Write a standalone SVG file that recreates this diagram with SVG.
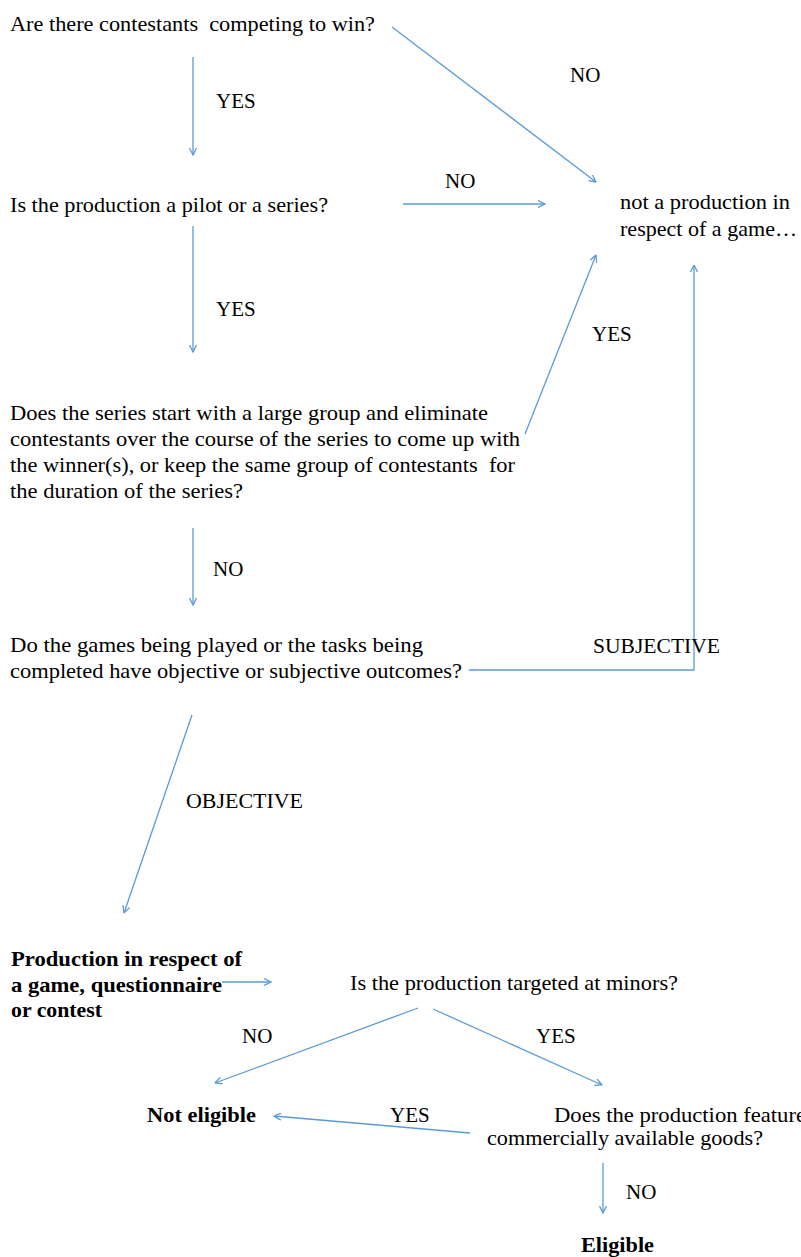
<svg xmlns="http://www.w3.org/2000/svg" width="801" height="1257" viewBox="0 0 801 1257">
<style>
text{font-family:"Liberation Serif","Times New Roman",serif;font-size:21px;fill:#000;white-space:pre}
.b{font-weight:bold}
.c{fill:none;stroke:#5b9bd5;stroke-width:1.3}
</style>
<defs>
<marker id="ah" viewBox="0 0 8 8" refX="7.5" refY="4" markerWidth="8" markerHeight="8" markerUnits="userSpaceOnUse" orient="auto">
<path d="M0.5,0.5 L7.5,4 L0.5,7.5" fill="none" stroke="#5b9bd5" stroke-width="1.3"/>
</marker>
</defs>
<rect width="801" height="1257" fill="#fff"/>
<g id="connectors">
<line class="c" x1="193" y1="57" x2="193" y2="155" marker-end="url(#ah)"/>
<line class="c" x1="392" y1="27" x2="596" y2="182" marker-end="url(#ah)"/>
<line class="c" x1="403" y1="204" x2="545" y2="204" marker-end="url(#ah)"/>
<line class="c" x1="193" y1="226" x2="193" y2="352" marker-end="url(#ah)"/>
<line class="c" x1="525" y1="434" x2="596" y2="255" marker-end="url(#ah)"/>
<line class="c" x1="193" y1="528" x2="193" y2="605" marker-end="url(#ah)"/>
<polyline class="c" points="469,670 694,670 694,265" marker-end="url(#ah)"/>
<line class="c" x1="192" y1="715" x2="124" y2="913" marker-end="url(#ah)"/>
<line class="c" x1="222" y1="982" x2="271" y2="982" marker-end="url(#ah)"/>
<line class="c" x1="418" y1="1008" x2="215" y2="1083" marker-end="url(#ah)"/>
<line class="c" x1="433" y1="1009" x2="602" y2="1085" marker-end="url(#ah)"/>
<line class="c" x1="470" y1="1133" x2="274" y2="1116" marker-end="url(#ah)"/>
<line class="c" x1="603" y1="1163" x2="603" y2="1213" marker-end="url(#ah)"/>
</g>
<g id="labels">
<text x="216" y="108">YES</text>
<text x="570" y="82">NO</text>
<text x="445" y="188">NO</text>
<text x="216" y="316">YES</text>
<text x="592" y="341">YES</text>
<text x="213" y="576">NO</text>
<text x="593" y="653" textLength="127" lengthAdjust="spacingAndGlyphs">SUBJECTIVE</text>
<text x="186" y="808" textLength="117" lengthAdjust="spacingAndGlyphs">OBJECTIVE</text>
<text x="242" y="1043">NO</text>
<text x="536" y="1043">YES</text>
<text x="390" y="1122">YES</text>
<text x="626" y="1199">NO</text>
</g>
<g id="q1"><text x="10" y="31" textLength="365" lengthAdjust="spacingAndGlyphs">Are there contestants  competing to win?</text></g>
<g id="q2"><text x="10" y="212" textLength="318" lengthAdjust="spacingAndGlyphs">Is the production a pilot or a series?</text></g>
<g id="not-game">
<text x="620" y="209" textLength="170" lengthAdjust="spacingAndGlyphs">not a production in</text>
<text x="620" y="236" textLength="177" lengthAdjust="spacingAndGlyphs">respect of a game…</text>
</g>
<g id="q3">
<text x="10" y="420" textLength="478" lengthAdjust="spacingAndGlyphs">Does the series start with a large group and eliminate</text>
<text x="10" y="446" textLength="510" lengthAdjust="spacingAndGlyphs">contestants over the course of the series to come up with</text>
<text x="10" y="472" textLength="505" lengthAdjust="spacingAndGlyphs">the winner(s), or keep the same group of contestants  for</text>
<text x="10" y="498" textLength="233" lengthAdjust="spacingAndGlyphs">the duration of the series?</text>
</g>
<g id="q4">
<text x="10" y="652" textLength="413" lengthAdjust="spacingAndGlyphs">Do the games being played or the tasks being</text>
<text x="10" y="678" textLength="452" lengthAdjust="spacingAndGlyphs">completed have objective or subjective outcomes?</text>
</g>
<g id="game">
<text class="b" x="11" y="966" textLength="231" lengthAdjust="spacingAndGlyphs">Production in respect of</text>
<text class="b" x="11" y="992" textLength="211" lengthAdjust="spacingAndGlyphs">a game, questionnaire</text>
<text class="b" x="11" y="1017" textLength="91" lengthAdjust="spacingAndGlyphs">or contest</text>
</g>
<g id="q5"><text x="350" y="990" textLength="328" lengthAdjust="spacingAndGlyphs">Is the production targeted at minors?</text></g>
<g id="not-eligible"><text class="b" x="147" y="1122" textLength="109" lengthAdjust="spacingAndGlyphs">Not eligible</text></g>
<g id="q6">
<text x="554" y="1122" textLength="252" lengthAdjust="spacingAndGlyphs">Does the production feature</text>
<text x="487" y="1145" textLength="276" lengthAdjust="spacingAndGlyphs">commercially available goods?</text>
</g>
<g id="eligible"><text class="b" x="581" y="1252" textLength="73" lengthAdjust="spacingAndGlyphs">Eligible</text></g>
</svg>
